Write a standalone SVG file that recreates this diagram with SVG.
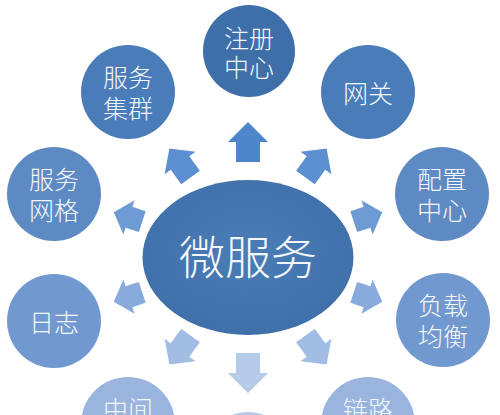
<svg xmlns="http://www.w3.org/2000/svg" width="500" height="415" viewBox="0 0 500 415">
<defs>
<style>
.t{font-family:"Noto Sans CJK SC","Noto Sans",sans-serif;font-weight:300;fill:#f4f7fb;text-anchor:middle;dominant-baseline:central}
.n{font-size:25px}
.c{font-size:46px}
</style>
<radialGradient id="eg" cx="50%" cy="45%" r="55%">
<stop offset="0" stop-color="#4a7db7"/>
<stop offset="1" stop-color="#4070a9"/>
</radialGradient>
<path id="big" d="M20,0 L0,-20 L0,-12 L-20,-12 L-20,12 L0,12 L0,20 Z"/>
<path id="diag" d="M18,0 L0,-19 L0,-11.5 L-18,-11.5 L-18,11.5 L0,11.5 L0,19 Z"/>
<path id="side" d="M15,0 L-1,-18 L-1,-11 L-15,-11 L-15,11 L-1,11 L-1,18 Z"/>
</defs>
<rect width="500" height="415" fill="#ffffff"/>
<g id="connectors">
<use href="#big" transform="translate(248,142) rotate(-90)" fill="#4e86cb"/>
<use href="#diag" transform="translate(316,163) rotate(-54)" fill="#5b8fd0"/>
<use href="#side" transform="translate(368,217) rotate(-18)" fill="#6f9bd4"/>
<use href="#side" transform="translate(368,297) rotate(18)" fill="#88abdc"/>
<use href="#diag" transform="translate(316,350) rotate(54)" fill="#a2bde4"/>
<use href="#big" transform="translate(248,373) rotate(90)" fill="#b6cbea"/>
<use href="#diag" transform="translate(180,350) rotate(126)" fill="#a2bde4"/>
<use href="#side" transform="translate(128,297) rotate(162)" fill="#88abdc"/>
<use href="#side" transform="translate(128,217) rotate(198)" fill="#6f9bd4"/>
<use href="#diag" transform="translate(180,163) rotate(234)" fill="#5b8fd0"/>
</g>
<g id="center">
<ellipse cx="248" cy="257.5" rx="105.5" ry="77.5" fill="url(#eg)"/>
<text class="t c" x="248" y="254">微服务</text>
</g>
<g id="zhuce">
<circle cx="249" cy="51" r="46" fill="#3f6fa8"/>
<text class="t n" x="249" y="37">注册<tspan x="249" dy="29">中心</tspan></text>
</g>
<g id="jiqun">
<circle cx="128" cy="92" r="47" fill="#4a7cb9"/>
<text class="t n" x="128" y="76">服务<tspan x="128" dy="31">集群</tspan></text>
</g>
<g id="wangguan">
<circle cx="368" cy="92" r="47" fill="#4a7cb9"/>
<text class="t n" x="368" y="92">网关</text>
</g>
<g id="wangge">
<circle cx="54" cy="194" r="47" fill="#5e8ac4"/>
<text class="t n" x="54" y="178">服务<tspan x="54" dy="31">网格</tspan></text>
</g>
<g id="peizhi">
<circle cx="442" cy="194" r="47" fill="#5e8ac4"/>
<text class="t n" x="442" y="178">配置<tspan x="442" dy="31">中心</tspan></text>
</g>
<g id="rizhi">
<circle cx="54" cy="321" r="47" fill="#7199cf"/>
<text class="t n" x="54" y="321">日志</text>
</g>
<g id="fuzai">
<circle cx="443" cy="320" r="47" fill="#7199cf"/>
<text class="t n" x="443" y="304">负载<tspan x="443" dy="31">均衡</tspan></text>
</g>
<g id="zhongjian">
<circle cx="128" cy="424" r="47" fill="#99b5de"/>
<text class="t n" x="128" y="408">中间</text>
</g>
<g id="lianlu">
<circle cx="368" cy="424" r="47" fill="#99b5de"/>
<text class="t n" x="368" y="408">链路</text>
</g>
<g id="bottom">
<circle cx="248" cy="459" r="47" fill="#b6cae8"/>
</g>
</svg>
